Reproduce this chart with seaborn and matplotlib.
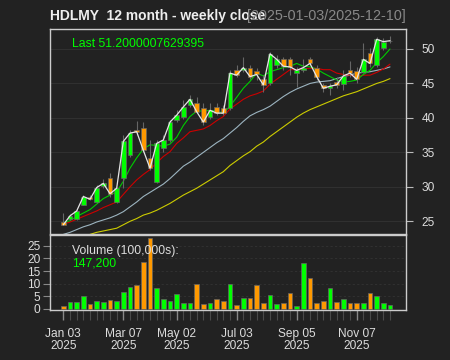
import numpy as np
import pandas as pd
import matplotlib
matplotlib.use("Agg")
import matplotlib.pyplot as plt
import seaborn as sns

# ---------------- data (weekly, 2025-01-03 .. 2025-12-10) ----------------
tick_idx = [0, 9, 17, 26, 35, 44]
tick_labels = ["Jan 03\n2025", "Mar 07\n2025", "May 02\n2025",
               "Jul 03\n2025", "Sep 05\n2025", "Nov 07\n2025"]

opens = [24.9, 25.3, 25.3, 27.4, 28.5, 27.8, 30.1, 31.3, 27.8, 31.3,
         34.6, 38.3, 38.5, 34.2, 30.7, 35.6, 36.8, 39.7, 40.2, 41.9,
         42.1, 41.4, 40.2, 41.6, 41.5, 41.4, 46.9, 46.9, 47.3, 46.8,
         45.7, 45.0, 47.7, 48.5, 48.5, 46.5, 47.0, 48.5, 47.3, 44.8,
         44.4, 45.2, 44.9, 46.9, 46.8, 46.7, 49.4, 47.7, 50.1, 51.1]
highs = [26.2, 26.1, 26.6, 28.8, 28.8, 30.3, 31.2, 32.0, 30.0, 37.5,
         38.2, 39.5, 39.4, 36.8, 36.8, 37.5, 39.7, 41.1, 42.6, 43.3,
         43.1, 42.1, 42.1, 42.2, 41.9, 46.9, 47.7, 48.9, 47.7, 47.2,
         46.2, 49.6, 49.1, 48.9, 48.9, 47.4, 48.6, 48.9, 47.7, 45.0,
         45.0, 46.0, 46.9, 48.2, 47.4, 50.8, 50.1, 51.8, 51.6, 51.9]
lows = [24.4, 25.2, 25.2, 27.3, 28.1, 27.6, 29.8, 28.6, 27.6, 29.8,
        34.4, 37.5, 35.1, 32.4, 30.5, 35.1, 36.5, 39.4, 39.9, 41.6,
        40.7, 39.0, 39.9, 40.4, 40.4, 41.1, 46.0, 46.7, 45.7, 45.5,
        43.8, 44.8, 47.2, 46.9, 46.2, 44.5, 46.7, 47.7, 45.5, 43.8,
        43.3, 44.3, 44.0, 46.0, 45.0, 46.5, 47.4, 47.4, 49.9, 50.9]
closes = [24.5, 25.8, 26.5, 28.6, 28.2, 29.9, 30.5, 29.0, 29.8, 36.6,
          37.8, 38.0, 35.3, 32.7, 36.3, 36.8, 39.4, 40.4, 41.6, 42.7,
          40.9, 39.4, 41.1, 40.7, 40.7, 46.5, 46.2, 47.3, 46.0, 46.3,
          44.8, 49.3, 48.5, 47.5, 47.4, 46.9, 47.3, 47.9, 46.0, 44.3,
          44.6, 44.8, 46.1, 46.5, 45.6, 48.5, 47.9, 51.4, 51.07, 51.2000007629395]
volumes = [100000, 280000, 290000, 530000, 200000, 320000, 260000, 360000, 300000, 670000,
           850000, 930000, 1850000, 2830000, 820000, 410000, 300000, 610000, 250000, 240000,
           990000, 200000, 250000, 400000, 330000, 970000, 170000, 450000, 450000, 940000,
           250000, 570000, 180000, 220000, 620000, 130000, 1800000, 1230000, 240000, 300000,
           810000, 260000, 380000, 220000, 250000, 220000, 650000, 520000, 250000, 147200]

sma_green = [24.8, 25.1, 25.7, 26.2, 26.7, 27.5, 28.3, 28.8, 29.3, 30.8,
             32.7, 34.2, 35.5, 36.1, 36.0, 35.9, 36.2, 37.2, 38.9, 40.2,
             41.0, 41.0, 41.1, 41.0, 40.7, 41.7, 43.0, 44.3, 45.3, 46.5,
             46.1, 46.7, 47.0, 47.3, 47.5, 47.9, 47.5, 47.4, 47.1, 46.5,
             46.0, 45.5, 45.2, 45.3, 45.5, 46.3, 46.9, 48.0, 48.9, 50.0]
sma_red = [24.6, 24.9, 25.3, 25.7, 26.1, 26.5, 27.0, 27.4, 27.8, 28.9,
           30.0, 31.0, 31.8, 32.5, 33.5, 34.4, 35.1, 36.3, 37.1, 38.0,
           38.2, 38.4, 38.9, 39.6, 40.2, 41.3, 42.0, 42.7, 43.2, 43.5,
           43.9, 44.9, 45.6, 46.3, 47.0, 47.0, 47.1, 47.2, 47.2, 47.0,
           47.0, 46.5, 46.3, 46.2, 46.0, 46.2, 46.2, 46.6, 47.1, 47.8]
sma_blue = [23.1, 23.4, 23.8, 24.2, 24.5, 24.9, 25.2, 25.5, 25.9, 26.4,
            27.1, 27.8, 28.6, 29.2, 29.8, 30.4, 31.2, 32.1, 33.0, 33.6,
            34.3, 35.0, 35.7, 36.4, 37.0, 37.8, 38.6, 39.5, 40.3, 40.8,
            41.2, 41.7, 42.4, 43.1, 43.7, 44.2, 44.6, 45.0, 45.2, 45.3,
            45.4, 45.7, 46.0, 46.2, 46.5, 46.6, 46.7, 46.9, 47.1, 47.4]
sma_yellow = [21.6, 22.0, 22.4, 22.7, 23.1, 23.4, 23.6, 23.8, 24.0, 24.5,
              25.0, 25.4, 25.9, 26.2, 26.6, 27.1, 27.6, 28.2, 28.8, 29.3,
              29.8, 30.4, 31.0, 31.6, 32.2, 33.1, 33.8, 34.5, 35.1, 35.9,
              36.5, 37.3, 38.0, 38.7, 39.4, 40.1, 40.7, 41.2, 41.6, 42.0,
              42.4, 42.8, 43.2, 43.5, 43.8, 44.2, 44.6, 45.0, 45.3, 45.7]

# ---------------- styling ----------------
BG = "#222222"
GRID = "#303030"
UP = "#00FF00"
DN = "#FF9900"
BORDER = "#666666"
FG = "#dddddd"

sns.set_theme(style="dark")
plt.rcParams["font.family"] = ["Liberation Sans", "DejaVu Sans"]

n = len(closes)
idx = np.arange(n)
df = pd.DataFrame({"i": idx, "open": opens, "high": highs, "low": lows,
                   "close": closes, "vol": np.array(volumes) / 1e5})
df["dir"] = np.where(df["close"] >= df["open"], "up", "down")

W, H = 450, 360
fig = plt.figure(figsize=(W / 100, H / 100), dpi=100, facecolor=BG)

def frac(x0, y0, x1, y1):
    return [x0 / W, 1 - y1 / H, (x1 - x0) / W, (y1 - y0) / H]

ax = fig.add_axes(frac(50, 29, 406, 234))
axv = fig.add_axes(frac(50, 235, 406, 309.5), sharex=ax)
for a in (ax, axv):
    a.set_facecolor(BG)
    a.grid(False)
    for s in a.spines.values():
        s.set_color("#cccccc")
        s.set_linewidth(1.0)

XL = (-2.0, 51.4)
ax.set_xlim(*XL)
ax.set_ylim(23.16, 52.9)

# grid
for yv in [25, 30, 35, 40, 45, 50]:
    ax.axhline(yv, color=GRID, lw=0.8, zorder=0)

# MA lines (seaborn)
for vals, col in [(sma_yellow, "#cccc00"), (sma_blue, "#9cb4c0"),
                  (sma_red, "#cc0000"), (sma_green, "#00cc00")]:
    sns.lineplot(x=idx, y=vals, ax=ax, color=col, lw=0.8, zorder=2)

# candles
body_lo = np.minimum(df["open"], df["close"])
body_h = np.maximum(np.abs(df["close"] - df["open"]), 0.08)
cols = np.where(df["dir"] == "up", UP, DN)
ax.vlines(idx, df["low"], df["high"], color=BORDER, lw=0.8, zorder=3)
ax.bar(idx, body_h, bottom=body_lo, width=0.66, color=cols,
       edgecolor=BORDER, linewidth=0.5, zorder=4)

# close line
sns.lineplot(x=idx, y=closes, ax=ax, color="#e6e6e6", lw=0.9, zorder=5)

ax.set_xlabel("")
ax.set_ylabel("")
ax.yaxis.tick_right()
ax.set_yticks([25, 30, 35, 40, 45, 50])
ax.tick_params(axis="y", colors="#bbbbbb", labelcolor=FG, length=5, width=0.8,
               labelsize=8.6, pad=6, left=False, right=True)
ax.tick_params(axis="x", bottom=False, labelbottom=False)

ax.text((72 - 50) / 356, 1 - (46.7 - 29) / 205, "Last 51.2000007629395",
        transform=ax.transAxes, color=UP, fontsize=8.8, va="baseline", ha="left")

# volume panel (seaborn bars)
sns.barplot(data=df, x="i", y="vol", hue="dir", palette={"up": UP, "down": DN},
            native_scale=True, width=0.66, dodge=False, legend=False, saturation=1,
            edgecolor=BORDER, linewidth=0.5, ax=axv, zorder=3)
axv.set_xlim(*XL)
axv.set_ylim(-0.24, 29.3)
for yv in [5, 10, 15, 20, 25]:
    axv.axhline(yv, color=GRID, lw=0.8, ls=(0, (2, 2)), zorder=0)
axv.set_xlabel("")
axv.set_ylabel("")
axv.set_yticks([0, 5, 10, 15, 20, 25])
axv.tick_params(axis="y", colors="#888888", labelcolor=FG, length=5, width=0.8,
                labelsize=8.6, pad=2, left=True, right=False)
axv.set_xticks(idx, minor=True)
axv.set_xticks(tick_idx)
axv.set_xticklabels(tick_labels)
axv.tick_params(axis="x", which="major", colors="#888888", labelcolor=FG, length=7,
                width=1.0, labelsize=8.6, pad=6, bottom=True)
axv.tick_params(axis="x", which="minor", colors="#4a4a4a", length=7, width=0.8, bottom=True)
for lab in axv.get_xticklabels():
    lab.set_linespacing(1.1)

axv.text((72 - 50) / 356, 1 - (254 - 235) / 74.5, "Volume (100,000s):",
         transform=axv.transAxes, color=FG, fontsize=8.8, va="baseline", ha="left")
axv.text((72 - 50) / 356, 1 - (267 - 235) / 74.5, "147,200",
         transform=axv.transAxes, color=UP, fontsize=8.8, va="baseline", ha="left")

# titles
fig.text(50.5 / W, 1 - 20 / H, "HDLMY  12 month - weekly close", color="#eeeeee",
         fontsize=10, fontweight="bold", ha="left", va="baseline")
fig.text(406 / W, 1 - 20 / H, "[2025-01-03/2025-12-10]", color="#888888",
         fontsize=10.4, ha="right", va="baseline")

fig.savefig("out.png", dpi=100, facecolor=BG)
